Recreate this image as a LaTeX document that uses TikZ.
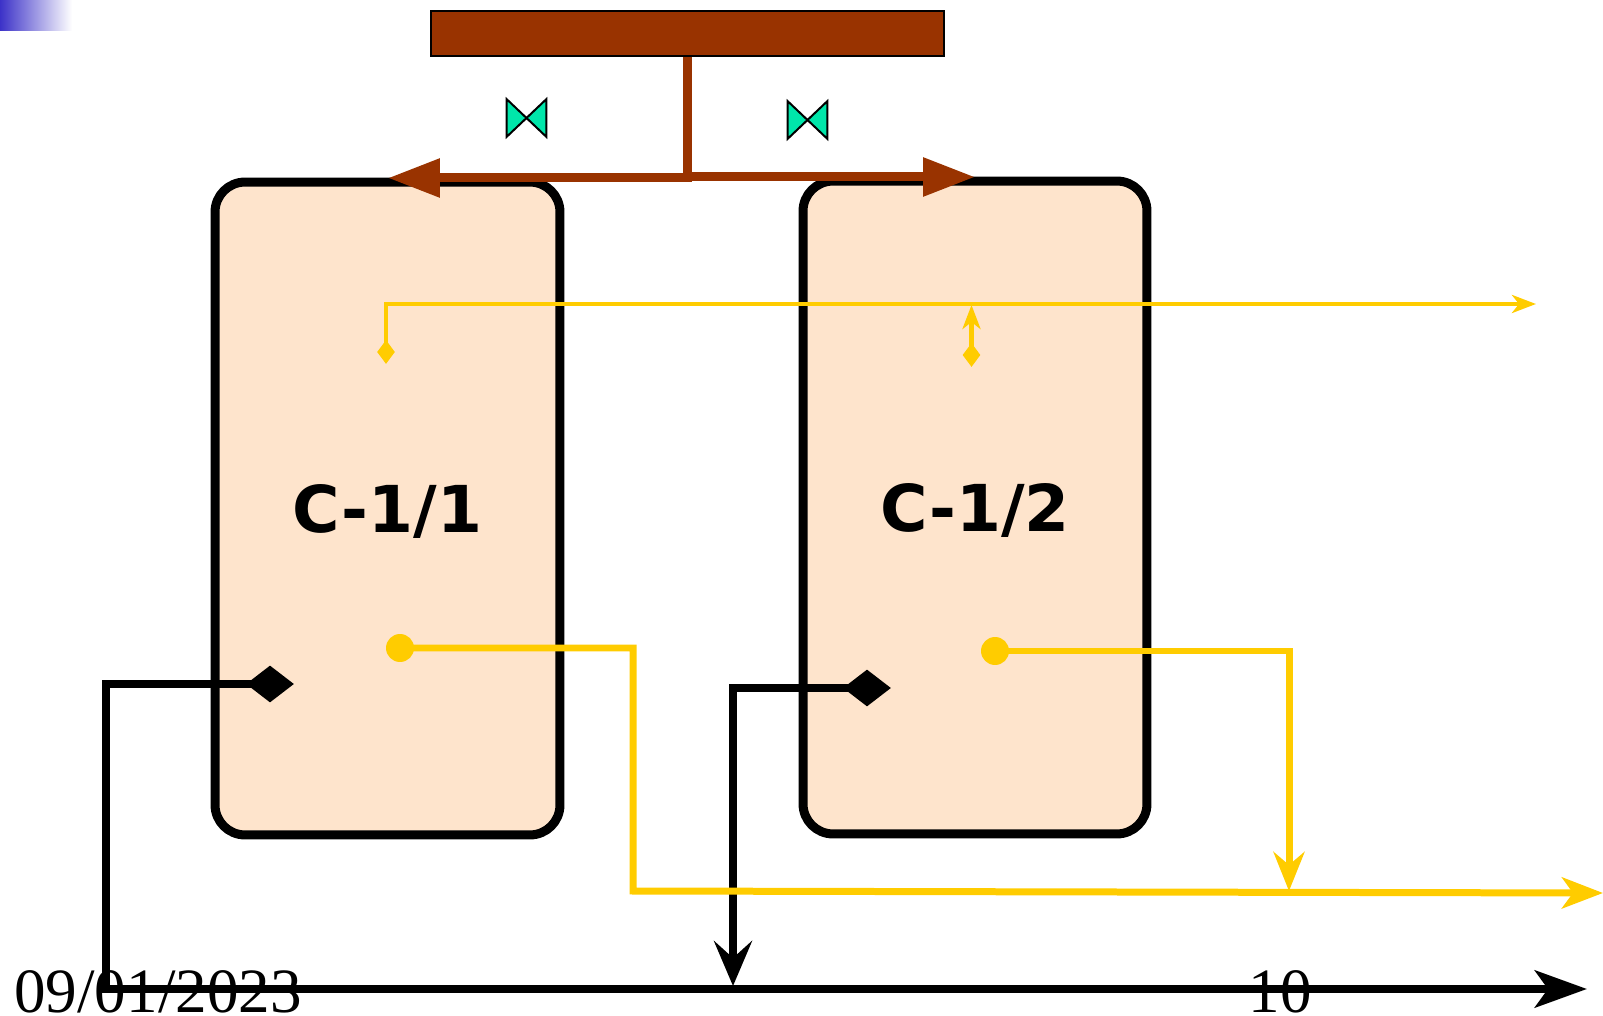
\documentclass[tikz,border=0pt]{standalone}
\usepackage{fontspec}
\setmainfont{Liberation Serif}
\newfontfamily\tagfont{DejaVu Sans}
\usetikzlibrary{arrows.meta,shapes.geometric}
\definecolor{pipebrown}{RGB}{153,51,0}
\definecolor{pipeyellow}{RGB}{255,204,0}
\definecolor{vesselfill}{RGB}{254,228,204}
\definecolor{valvegreen}{RGB}{0,230,170}
\definecolor{cornerblue}{RGB}{60,50,200}
\tikzset{
  vessel/.style={draw, line width=0.18cm, rounded corners=0.6cm, fill=vesselfill, minimum width=6.9cm, minimum height=13.06cm, font=\tagfont\bfseries\fontsize{36.8}{36.8}\selectfont, text height=0.96cm, text depth=0pt, inner sep=0pt},
  valve/.style={minimum width=0.78cm, minimum height=0.74cm, inner sep=0pt},
  valveline/.style={draw=black, line width=0.04cm, fill=valvegreen, line join=miter},
  brownpipe/.style={draw=pipebrown, line width=0.18cm},
  thickyellow/.style={draw=pipeyellow, line width=0.14cm},
  thinyellow/.style={draw=pipeyellow, line width=0.09cm},
  blackpipe/.style={draw=black, line width=0.17cm},
  smallgauge/.style={diamond, fill=pipeyellow, minimum width=0.36cm, minimum height=0.48cm, aspect=0.75, inner sep=0pt},
  blackgauge/.style={diamond, fill=black, minimum width=0.96cm, minimum height=0.74cm, aspect=1.3, inner sep=0pt},
  yellowdot/.style={circle, fill=pipeyellow, minimum size=0.56cm, inner sep=0pt},
  footer/.style={font=\fontsize{35.9}{35.9}\selectfont, inner sep=0pt, anchor=base},
}

\begin{document}
\begin{tikzpicture}[x=0.02cm, y=-0.02cm]
    \useasboundingbox (0,0) rectangle (1603,1016);

    % Corner gradient
    \node[left color=cornerblue, right color=white, minimum width=1.44cm, minimum height=0.62cm, inner sep=0pt] (cornermark) at (36,15.5) {};

    % Draw the two vessels
    \node[vessel] (vesselleft) at (387.5,508.5) {C-1/1};
    \node[vessel, minimum width=6.88cm] (vesselright) at (975,507.5) {C-1/2};

    % Header and valves
    \node[draw, line width=0.04cm, fill=pipebrown, minimum width=10.26cm, minimum height=0.9cm, inner sep=0pt] (header) at (687.5,33.5) {};
    \node[valve] (valveleft) at (526.5,118) {};
    \node[valve] (valveright) at (807.5,120) {};
    \draw[valveline] (valveleft.north west) -- (valveleft.south east) -- (valveleft.north east) -- (valveleft.south west) -- cycle;
    \draw[valveline] (valveright.north west) -- (valveright.south east) -- (valveright.north east) -- (valveright.south west) -- cycle;

    % Feed lines
    \coordinate (headerjoin) at (687.5,182);
    \coordinate (branchleft) at (692,178);
    \coordinate (branchright) at (683,177);
    \coordinate (inletleft) at (388,178);
    \coordinate (inletright) at (975,177);
    \draw[brownpipe] (header.south) -- (headerjoin);
    \draw[brownpipe, -{Triangle[length=1.04cm, width=0.74cm]}] (branchleft) -- (inletleft);
    \draw[brownpipe, -{Triangle[length=1.04cm, width=0.74cm]}] (branchright) -- (inletright);

    % Black lines from the lower gauges
    \node[blackgauge] (gaugeleft) at (270,684) {};
    \node[blackgauge] (gaugeright) at (867,688) {};
    \coordinate (blackcorner) at (106,989);
    \coordinate (blackout) at (1587,989);
    \coordinate (blackjoin) at (733,986);
    \draw[blackpipe, -{Stealth[length=1.04cm, width=0.74cm, inset=0.26cm]}] (gaugeleft.center) -| (blackcorner) -- (blackout);
    \draw[blackpipe, -{Stealth[length=0.9cm, width=0.76cm, inset=0.34cm]}] (gaugeright.center) -| (blackjoin);

    % Thin yellow lines
    \node[smallgauge] (sensorleft) at (386,352) {};
    \node[smallgauge] (sensorright) at (971.5,355) {};
    \coordinate (thinout) at (1536,304);
    \coordinate (thinjoin) at (971.5,305);
    \draw[thinyellow, -{Stealth[length=0.48cm, width=0.36cm, inset=0.14cm]}] (sensorleft.center) |- (thinout);
    \draw[thinyellow, -{Stealth[length=0.48cm, width=0.36cm, inset=0.14cm]}] (sensorright.center) -- (thinjoin);

    % Thick yellow lines
    \node[yellowdot] (dotleft) at (400,648) {};
    \node[yellowdot] (dotright) at (995,651) {};
    \coordinate (yellowcorner) at (633,891);
    \coordinate (yellowout) at (1603,893);
    \coordinate (yellowjoin) at (1289,891);
    \draw[thickyellow, -{Stealth[length=0.82cm, width=0.62cm, inset=0.22cm]}] (dotleft.center) -| (yellowcorner) -- (yellowout);
    \draw[thickyellow, -{Stealth[length=0.78cm, width=0.62cm, inset=0.26cm]}] (dotright.center) -| (yellowjoin);

    % Footer texts
    \node[footer] (datetext) at (158,1012.5) {09/01/2023};
    \node[footer] (pagetext) at (1280,1012.5) {10};
\end{tikzpicture}
\end{document}
